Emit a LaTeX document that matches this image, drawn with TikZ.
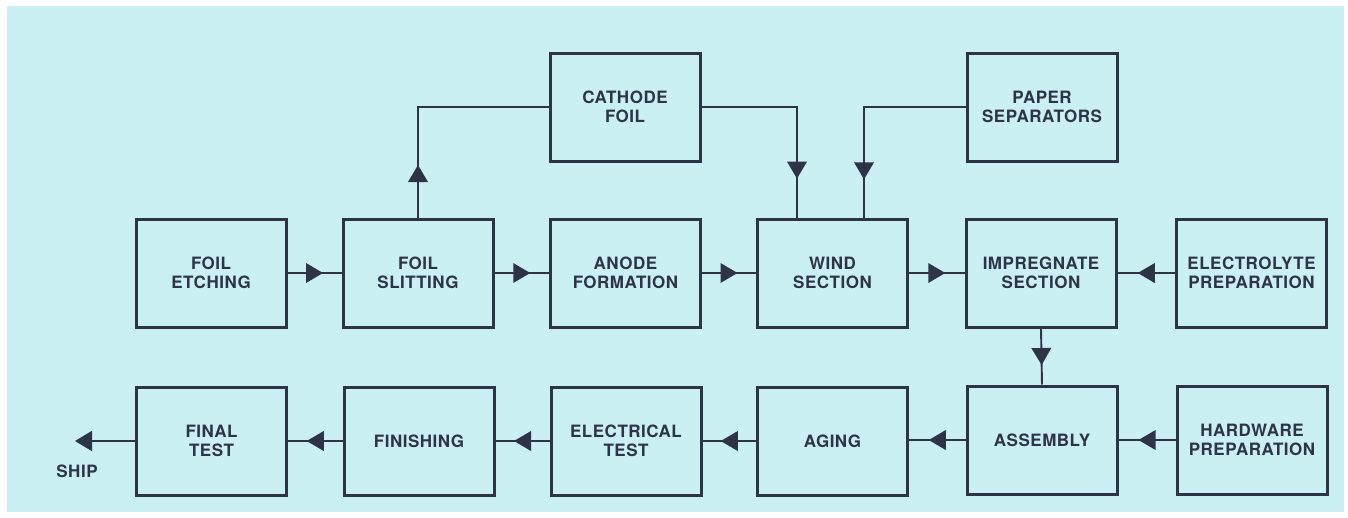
\documentclass[tikz,border=0pt]{standalone}
\usepackage{fontspec}
\setmainfont{TeX Gyre Heros}[LetterSpace=3]
\usetikzlibrary{arrows.meta,decorations.markings,calc}
\definecolor{bgcyan}{RGB}{202,240,244}
\definecolor{ink}{RGB}{45,52,70}
\begin{document}
\begin{tikzpicture}[x=1pt,y=-1pt,
  box/.style={draw=ink, line width=3pt, minimum width=150pt, minimum height=108pt,
    inner sep=0pt, align=center, font=\bfseries\fontsize{17}{18.5}\selectfont, text=ink},
  conn/.style={draw=ink, line width=1.9pt},
  midarr/.style={postaction={decorate}, decoration={markings,
    mark=at position #1 with {\fill[ink] (8.5pt,0pt) -- (-8.5pt,10pt) -- (-8.5pt,-10pt) -- cycle;}}},
  midarr/.default=0.5,
  lbl/.style={font=\bfseries\fontsize{17}{18.5}\selectfont, text=ink, inner sep=0pt}]
\useasboundingbox (0,0) rectangle (1348,517);
\fill[bgcyan] (7,6) rectangle (1344,512);
% top row
\node[box] (cath)  at (625,107)  {CATHODE\\FOIL};
\node[box] (paper) at (1042,107) {PAPER\\SEPARATORS};
% middle row
\node[box] (etch)   at (211,273)    {FOIL\\ETCHING};
\node[box] (slit)   at (418,273)    {FOIL\\SLITTING};
\node[box] (anode)  at (625.5,273)  {ANODE\\FORMATION};
\node[box] (wind)   at (832.5,273)  {WIND\\SECTION};
\node[box] (impreg) at (1041,273)   {IMPREGNATE\\SECTION};
\node[box] (elec)   at (1251.5,273) {ELECTROLYTE\\PREPARATION};
% bottom row
\node[box] (final)  at (211.5,441) {FINAL\\TEST};
\node[box] (finish) at (419,441)   {FINISHING};
\node[box] (etest)  at (626,441)   {ELECTRICAL\\TEST};
\node[box] (aging)  at (832.5,441) {AGING};
\node[box] (assem)  at (1042,440)  {ASSEMBLY};
\node[box] (hard)   at (1252,440)  {HARDWARE\\PREPARATION};
\coordinate (shipend) at (75,441);
\node[lbl] (ship) at (77,471) {SHIP};
% connectors
\draw[conn, midarr] (etch.east) -- (slit.west);
\draw[conn, midarr] (slit.east) -- (anode.west);
\draw[conn, midarr] (anode.east) -- (wind.west);
\draw[conn, midarr] (wind.east) -- (impreg.west);
\draw[conn, midarr] (elec.west) -- (impreg.east);
\draw[conn, midarr=44pt] (slit.north) |- (cath.west);
\draw[conn, midarr=0.77] (cath.east) -| ([xshift=-35.5pt]wind.north);
\draw[conn, midarr=0.78] (paper.west) -| ([xshift=31.5pt]wind.north);
\draw[conn, midarr] (impreg.south) -- (assem.north);
\draw[conn, midarr] (hard.west) -- (hard.west -| assem.east);
\draw[conn, midarr] (assem.west) -- (assem.west -| aging.east);
\draw[conn, midarr] (aging.west) -- (etest.east);
\draw[conn, midarr] (etest.west) -- (finish.east);
\draw[conn, midarr] (finish.west) -- (final.east);
\draw[conn, -{Triangle[length=17pt,width=20pt]}] (final.west) -- (shipend);
\end{tikzpicture}
\end{document}
